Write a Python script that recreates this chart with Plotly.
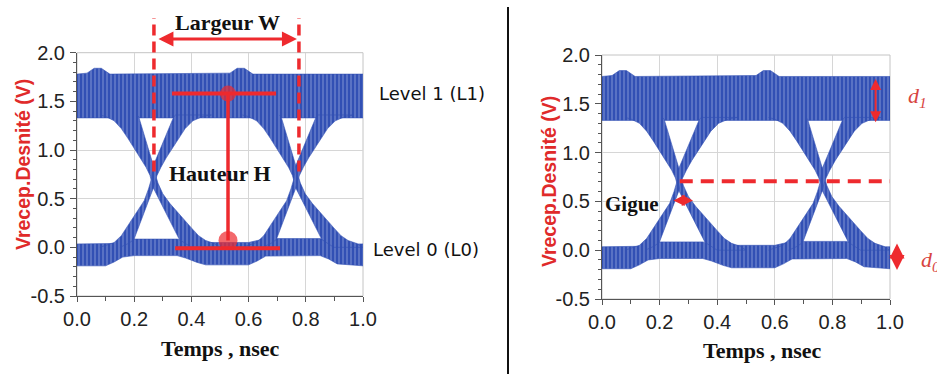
import plotly.graph_objects as go

FIG_W, FIG_H = 937, 374

# ---------------- data ----------------
TIME_TICKS = [0.0, 0.2, 0.4, 0.6, 0.8, 1.0]
TIME_TICK_TEXT = ["0.0", "0.2", "0.4", "0.6", "0.8", "1.0"]
VOLT_TICKS = [-0.5, 0.0, 0.5, 1.0, 1.5, 2.0]
VOLT_TICK_TEXT = ["-0.5", "0.0", "0.5", "1.0", "1.5", "2.0"]

# level-1 band envelope (ns, V)
TOP_T = [0.0, 0.035, 0.06, 0.085, 0.115, 0.535, 0.56, 0.585, 0.615, 1.0]
TOP_HI = [1.78, 1.79, 1.84, 1.84, 1.78, 1.79, 1.84, 1.84, 1.78, 1.78]
TOP_LO = [1.33, 1.33, 1.33, 1.33, 1.33, 1.33, 1.33, 1.33, 1.33, 1.33]

# level-0 band envelope
BOT_T = [0.0, 0.10, 0.13, 0.16, 0.20, 0.35, 0.38, 0.42, 0.45, 0.60, 0.63, 0.66, 0.85, 0.88, 0.91, 1.0]
BOT_HI = [0.035, 0.035, 0.04, 0.06, 0.085, 0.085, 0.06, 0.05, 0.05, 0.05, 0.07, 0.09, 0.09, 0.06, 0.035, 0.035]
BOT_LO = [-0.19, -0.19, -0.15, -0.10, -0.085, -0.085, -0.11, -0.155, -0.18, -0.18, -0.14, -0.09, -0.085, -0.12, -0.17, -0.19]

# eye crossings (ns); transition-band outlines given as time offsets from each crossing
CROSSING_T = [0.267, 0.765]
FALL_DT = [-0.187, -0.167, -0.137, -0.112, -0.089, -0.067, -0.045, -0.025, -0.012, -0.005,
           0.000, 0.091, 0.113, 0.133, 0.233, 0.213, 0.183, 0.158, 0.133, 0.108,
           0.083, 0.058, 0.033, 0.016, 0.008, 0.000, -0.051, -0.057]
FALL_V = [1.36, 1.345, 1.30, 1.22, 1.12, 1.02, 0.92, 0.82, 0.74, 0.67,
          0.61, 0.08, 0.04, 0.00, 0.00, 0.04, 0.07, 0.12, 0.20, 0.28,
          0.36, 0.45, 0.55, 0.66, 0.74, 0.84, 1.34, 1.36]
RISE_DT = [-0.187, -0.167, -0.137, -0.112, -0.082, -0.057, -0.032, -0.017, -0.007, 0.000,
           0.071, 0.078, 0.203, 0.173, 0.138, 0.111, 0.088, 0.068, 0.045, 0.026,
           0.013, 0.005, 0.000, -0.068, -0.087, -0.117]
RISE_V = [0.00, 0.02, 0.05, 0.12, 0.256, 0.36, 0.48, 0.60, 0.70, 0.84,
          1.34, 1.36, 1.36, 1.345, 1.30, 1.22, 1.12, 1.02, 0.92, 0.82,
          0.74, 0.67, 0.61, 0.08, 0.04, 0.00]

# left-panel measurement marks
WIDTH_T = [0.269, 0.776]
WIDTH_V_END = 0.78
HEIGHT_T = 0.528
L1_MARK_T = [0.332, 0.696]
L1_MARK_V = 1.58
L0_MARK_T = [0.343, 0.710]
L0_MARK_V = -0.01
L0_DOT_V = 0.07

# right-panel measurement marks
CROSS_LEVEL_T = [0.27, 1.0]
CROSS_LEVEL_V = 0.707
JITTER_T = [0.243, 0.316]
JITTER_V = 0.51
D1_T = 0.95
D1_V = [1.77, 1.31]

# ---------------- styling ----------------
RED = "#ee2a2e"
BAND_BG = "#3250b4"
BAND_FG = "#8a9dd8"
GRID = "#d6d6d6"
AXC = "#555555"

LX = [77 / FIG_W, 363 / FIG_W]
LY = [1 - 296 / FIG_H, 1 - 52.7 / FIG_H]
RX = [602 / FIG_W, 890 / FIG_W]
RY = [1 - 299 / FIG_H, 1 - 55 / FIG_H]


def PX(x):
    return x / FIG_W


def PY(y):
    return 1 - y / FIG_H


def lx(t):
    return LX[0] + t * (LX[1] - LX[0])


def ly(v):
    return LY[0] + (v + 0.5) / 2.5 * (LY[1] - LY[0])


fig = go.Figure()


def band(xs, ys, xa, ya):
    fig.add_trace(go.Scatter(
        x=xs, y=ys, xaxis=xa, yaxis=ya, mode="lines", fill="toself",
        line=dict(color=BAND_BG, width=0.6),
        fillcolor=BAND_BG,
        fillpattern=dict(shape="|", bgcolor=BAND_BG, fgcolor=BAND_FG,
                         size=4, solidity=0.22, fillmode="replace"),
        hoverinfo="skip", showlegend=False))


for xa, ya in (("x", "y"), ("x2", "y2")):
    band(TOP_T + TOP_T[::-1], TOP_HI + TOP_LO[::-1], xa, ya)
    band(BOT_T + BOT_T[::-1], BOT_HI + BOT_LO[::-1], xa, ya)
    for tc in CROSSING_T:
        band([tc + d for d in FALL_DT], FALL_V, xa, ya)
        band([tc + d for d in RISE_DT], RISE_V, xa, ya)

fig.add_trace(go.Scatter(x=L1_MARK_T, y=[L1_MARK_V] * 2, mode="lines",
                         line=dict(color=RED, width=4), hoverinfo="skip", showlegend=False))
fig.add_trace(go.Scatter(x=L0_MARK_T, y=[L0_MARK_V] * 2, mode="lines",
                         line=dict(color=RED, width=4), hoverinfo="skip", showlegend=False))
fig.add_trace(go.Scatter(x=[HEIGHT_T, HEIGHT_T], y=[L1_MARK_V, L0_DOT_V], mode="lines",
                         line=dict(color=RED, width=3.5), hoverinfo="skip", showlegend=False))
fig.add_trace(go.Scatter(x=[HEIGHT_T, HEIGHT_T], y=[L1_MARK_V, L0_DOT_V], mode="markers",
                         marker=dict(color=RED, size=[16, 19], line=dict(width=0)),
                         cliponaxis=False, hoverinfo="skip", showlegend=False))

fig.add_trace(go.Scatter(x=CROSS_LEVEL_T, y=[CROSS_LEVEL_V] * 2, mode="lines",
                         xaxis="x2", yaxis="y2",
                         line=dict(color=RED, width=4, dash="13px,8px"),
                         hoverinfo="skip", showlegend=False))

axis_common = dict(showline=True, linecolor=AXC, linewidth=1, ticks="outside",
                   tickcolor=AXC, showgrid=True, gridcolor=GRID, gridwidth=1,
                   zeroline=False, mirror=False, automargin=False,
                   tickfont=dict(family="Liberation Sans, Arial, sans-serif", size=20, color="#222"))

xcommon = dict(axis_common, range=[0, 1], tickvals=TIME_TICKS, ticktext=TIME_TICK_TEXT,
               ticklen=5, ticklabelstandoff=0,
               minor=dict(dtick=0.1, tick0=0, ticks="outside", ticklen=4, tickcolor=AXC, showgrid=False))
ycommon = dict(axis_common, range=[-0.5, 2.0], tickvals=VOLT_TICKS, ticktext=VOLT_TICK_TEXT,
               ticklen=6, ticklabelstandoff=1,
               minor=dict(dtick=0.1, tick0=0, ticks="outside", ticklen=3, tickcolor=AXC, showgrid=False))

shapes = []
for xr, yr in (("x", "y"), ("x2", "y2")):
    shapes.append(dict(type="rect", xref=xr + " domain", yref=yr + " domain",
                       x0=0, x1=1, y0=0, y1=1, line=dict(color="#c4c4c4", width=1),
                       layer="below"))
for t in WIDTH_T:
    shapes.append(dict(type="line", xref="paper", yref="paper",
                       x0=lx(t), x1=lx(t), y0=ly(WIDTH_V_END), y1=PY(18),
                       line=dict(color=RED, width=3.5, dash="11px,6px")))
shapes.append(dict(type="line", xref="paper", yref="paper", x0=PX(508), x1=PX(508),
                   y0=0, y1=PY(7), line=dict(color="#111", width=2)))


def arrow(x, y, ax, ay, width, size, xref="paper", yref="paper", axref="pixel", ayref="pixel"):
    return dict(x=x, y=y, ax=ax, ay=ay, xref=xref, yref=yref, axref=axref, ayref=ayref,
                text="", showarrow=True, arrowhead=2, arrowside="end+start",
                arrowsize=size, arrowwidth=width, arrowcolor=RED, standoff=0, startstandoff=0)


def label(x, y, text, font, xanchor="center", angle=0):
    return dict(x=PX(x), y=PY(y), xref="paper", yref="paper", text=text, showarrow=False,
                font=font, xanchor=xanchor, yanchor="middle", textangle=angle)


serif_b = dict(family="Liberation Serif, Times New Roman, serif", size=22, color="#111")
sans_lvl = dict(family="DejaVu Sans, Verdana, sans-serif", size=18, color="#111")
ytitle_f = dict(family="Liberation Sans, Arial, sans-serif", size=19.5, color="#e02a2a")
dfont = dict(family="Liberation Serif, Times New Roman, serif", size=22, color="#d8453f")

annotations = [
    arrow(lx(WIDTH_T[1]) - PX(2), PY(39), -(WIDTH_T[1] - WIDTH_T[0]) * 286 + 5, 0, 3, 1.0),
    label(227, 22, "<b>Largeur W</b>", serif_b),
    label(220, 173, "<b>Hauteur H</b>", serif_b),
    label(377, 93, "Level 1 (L1)", sans_lvl, "left"),
    label(371, 249, "Level 0 (L0)", sans_lvl, "left"),
    label(23, 165, "<b>Vrecep.Desnité (V)</b>", ytitle_f, angle=-90),
    label(549, 182, "<b>Vrecep.Desnité (V)</b>", ytitle_f, angle=-90),
    label(220, 348, "<b>Temps , nsec</b>", serif_b),
    label(762, 350, "<b>Temps , nsec</b>", serif_b),
    label(632, 204, "<b>Gigue</b>", dict(serif_b, size=21)),
    arrow(JITTER_T[1], JITTER_V, JITTER_T[0], JITTER_V, 2.5, 0.9,
          xref="x2", yref="y2", axref="x2", ayref="y2"),
    arrow(D1_T, D1_V[1], D1_T, D1_V[0], 2, 1.1,
          xref="x2", yref="y2", axref="x2", ayref="y2"),
    arrow(PX(897), PY(270), 0, -28, 3, 1.0),
    label(917, 97, "<i>d<sub>1</sub></i>", dfont),
    label(930, 261, "<i>d<sub>0</sub></i>", dfont),
]

fig.update_layout(
    width=FIG_W, height=FIG_H, autosize=False,
    margin=dict(l=0, r=0, t=0, b=0, pad=0, autoexpand=False),
    paper_bgcolor="white", plot_bgcolor="white", showlegend=False,
    xaxis=dict(xcommon, domain=LX, anchor="y"),
    yaxis=dict(ycommon, domain=LY, anchor="x"),
    xaxis2=dict(xcommon, domain=RX, anchor="y2"),
    yaxis2=dict(ycommon, domain=RY, anchor="x2"),
    shapes=shapes, annotations=annotations,
)

fig.write_html("out.html", config={"displayModeBar": False, "responsive": False},
               post_script="document.body.style.margin='0';")
